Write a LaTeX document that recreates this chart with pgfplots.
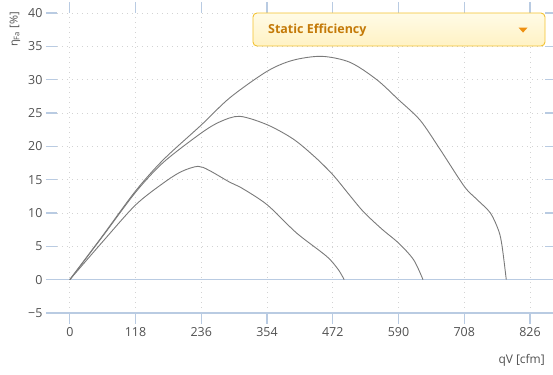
\documentclass[border=0pt]{standalone}
\usepackage{pgfplots}
\pgfplotsset{compat=1.18}
\usepackage{fontspec}
\setmainfont{Open Sans}
\definecolor{gridc}{HTML}{D3D3D3}
\definecolor{axc}{HTML}{B9CBE2}
\definecolor{tickc}{HTML}{505050}
\definecolor{curvec}{HTML}{7A7A7A}
\definecolor{boxborder}{HTML}{F3C230}
\definecolor{boxtop}{HTML}{FFFBE6}
\definecolor{boxbot}{HTML}{FFF2C4}
\definecolor{boxtext}{HTML}{C47A08}
\definecolor{tri}{HTML}{EE9010}
\begin{document}
\begin{tikzpicture}
\begin{axis}[name=ax, scale only axis, width=488bp, height=300bp,
  xmin=-23, xmax=853, ymin=-5, ymax=40,
  xtick={0,118,236,354,472,590,708,826},
  xticklabels={0,118,236,354,472,590,708,826},
  ytick={-5,0,5,10,15,20,25,30,35,40},
  yticklabels={−5,0,5,10,15,20,25,30,35,40},
  grid=major,
  major grid style={gridc, dash pattern=on 1.2bp off 3.8bp, line width=0.9bp},
  axis line style={draw=none},
  tick align=outside, major tick length=11bp,
  tick style={axc, line width=1.1bp},
  ticklabel style={font=\fontsize{12.5}{14}\selectfont, text=tickc},
  clip=false,
]
\draw[axc, line width=1.3bp] (rel axis cs:0,0) -- (rel axis cs:1,0);
\draw[axc, line width=1.3bp] (axis cs:-23,0) -- (axis cs:853,0);
\addplot[curvec, line width=0.9bp, smooth, tension=0.5] coordinates {
(0,0) (59,6.6) (118,13.3) (168,18.0) (236,23.2) (287.5,27.3) (354,31.25) (400,32.9) (452,33.5) (503,32.6) (551,30) (590,27) (629,23.9) (665,19.5) (708,14) (730,12.1) (755,10) (770,7.3) (776,5.0) (783.5,0)};
\addplot[curvec, line width=0.9bp, smooth, tension=0.5] coordinates {
(0,0) (59,6.5) (118,13.1) (168,17.6) (236,22.0) (270,23.7) (305,24.5) (354,23.25) (401,21.1) (440,18.4) (472,15.75) (500,12.9) (527,10.2) (560,7.6) (590,5.5) (617,3) (634,0)};
\addplot[curvec, line width=0.9bp, smooth, tension=0.5] coordinates {
(0,0) (59,5.7) (118,11.2) (168,14.5) (200,16.2) (230,17.0) (250,16.4) (287.5,14.6) (305.5,13.9) (354,11.25) (407,7) (461,3.5) (482,1.5) (492.5,0)};
\draw[rounded corners=4bp, draw=boxborder, line width=0.9bp, top color=boxtop, bottom color=boxbot]
  (rel axis cs:0.4016,0.89) rectangle (rel axis cs:1,1);
\node[anchor=west, text=boxtext, font=\fontsize{12.5}{14}\selectfont\bfseries, inner sep=0pt]
  at ([xshift=15bp]rel axis cs:0.4016,0.943) {Static Efficiency};
\fill[tri] (rel axis cs:0.9458,0.9513) -- (rel axis cs:0.9642,0.9513) -- (rel axis cs:0.955,0.9347) -- cycle;
\end{axis}
\node[rotate=90, anchor=east, text=tickc, font=\fontsize{11}{13}\selectfont, inner sep=0pt]
  at ([shift={(-42bp,1bp)}]ax.north west) {η\textsubscript{Fa} [\%]};
\node[anchor=east, text=tickc, font=\fontsize{12}{14}\selectfont, inner sep=0pt]
  at ([shift={(0bp,-47bp)}]ax.south east) {qV [cfm]};
\pgfresetboundingbox
\path[use as bounding box] ([shift={(-57bp,-62bp)}]ax.south west) rectangle ([shift={(8bp,13bp)}]ax.north east);
\end{tikzpicture}
\end{document}
